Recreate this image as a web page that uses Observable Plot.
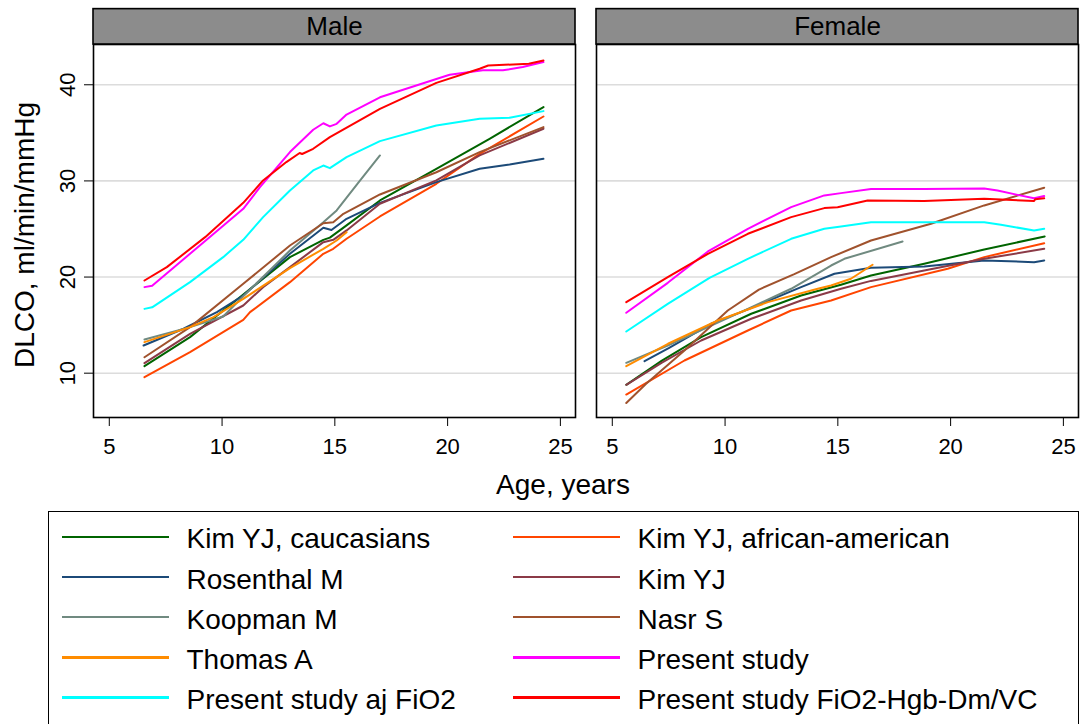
<!DOCTYPE html>
<html>
<head>
<meta charset="utf-8">
<script src="https://cdn.jsdelivr.net/npm/d3@7"></script>
<script src="https://cdn.jsdelivr.net/npm/@observablehq/plot@0.6"></script>
<style>
  html, body { margin: 0; padding: 0; background: white; }
  body { font-family: "Liberation Sans", Arial, Helvetica, sans-serif; color: black; }
  #wrap { position: relative; width: 1083px; height: 724px; overflow: hidden; }
  #xlabel { position: absolute; top: 469px; left: 0; width: 1126px; text-align: center; font-size: 28px; line-height: 32px; }
  #legend { position: absolute; top: 511px; left: 48px; width: 1031px; height: 260px; border: 1.5px solid black; box-sizing: border-box; }
  .item { position: absolute; height: 40px; display: flex; align-items: center; }
  .swatch { width: 107px; height: 2.6px; }
  .lab { font-size: 28px; margin-left: 18px; margin-top: 5px; white-space: nowrap; }
</style>
</head>
<body>
<div id="wrap">
  <div id="chart"></div>
  <div id="xlabel">Age, years</div>
  <div id="legend"></div>
</div>
<script>
// ---- Data ----
const sexes = ["Male", "Female"];
const xTicks = [5, 10, 15, 20, 25];
const yTicks = [10, 20, 30, 40];

const seriesNames = [
  "Kim YJ, caucasians", "Kim YJ, african-american", "Rosenthal M", "Kim YJ",
  "Koopman M", "Nasr S", "Thomas A", "Present study",
  "Present study aj FiO2", "Present study FiO2-Hgb-Dm/VC"
];
const seriesColors = [
  "#006400", "#ff4500", "#1c4a78", "#8b3a47",
  "#708a80", "#a0522d", "#ff8c00", "#ff00ff",
  "#00ffff", "#ff0000"
];
const legendLeft = ["Kim YJ, caucasians", "Rosenthal M", "Koopman M", "Thomas A", "Present study aj FiO2"];
const legendRight = ["Kim YJ, african-american", "Kim YJ", "Nasr S", "Present study", "Present study FiO2-Hgb-Dm/VC"];

// Male curves: [age, DLCO]
const maleKimCau = [[6.56,10.73],[8.58,13.75],[10.94,18.19],[13.01,22.07],[14.49,23.87],[14.78,24.1],[15.52,25.37],[17.0,27.97],[19.5,31.26],[21.86,34.38],[24.25,37.68]];
const maleKimAfr = [[6.56,9.58],[8.58,12.19],[10.94,15.55],[11.24,16.35],[13.01,19.47],[14.49,22.42],[14.93,22.94],[15.52,23.98],[17.0,26.3],[19.5,29.7],[21.42,32.82],[24.25,36.7]];
const maleRosenthal = [[6.52,12.88],[8.29,14.62],[9.77,16.35],[10.94,18.08],[13.01,22.42],[14.49,25.12],[14.85,24.9],[15.52,26.06],[17.0,27.72],[19.5,29.87],[21.42,31.26],[22.75,31.7],[24.25,32.3]];
const maleKim = [[6.56,11.04],[8.58,14.09],[10.94,17.04],[11.82,18.95],[13.01,21.03],[14.49,23.63],[14.93,23.87],[15.52,24.85],[17.0,27.62],[19.5,30.05],[21.42,32.65],[24.25,35.43]];
const maleKoopman = [[6.56,13.5],[8.58,14.79],[10.05,15.9],[10.94,18.0],[13.01,22.76],[14.49,25.7],[15.08,26.93],[16.0,29.7],[17.0,32.65]];
const maleNasr = [[6.56,11.66],[8.58,14.79],[10.94,19.3],[13.01,23.28],[14.49,25.6],[14.93,25.7],[15.38,26.58],[17.0,28.59],[19.5,30.9],[21.42,33.0],[24.25,35.6]];
const maleThomas = [[6.56,13.23],[8.58,14.79],[9.62,15.83],[10.94,17.73],[13.01,20.93],[14.49,22.94],[15.08,23.8],[15.52,24.67]];
const malePresent = [[6.56,18.95],[6.9,19.1],[8.58,22.42],[10.94,27.1],[11.68,29.35],[13.01,33.0],[14.04,35.32],[14.49,36.0],[14.78,35.67],[15.08,35.94],[15.52,36.9],[17.0,38.7],[19.5,40.6],[20.09,41.04],[21.56,41.5],[22.45,41.5],[23.33,41.84],[24.25,42.36]];
const malePresentAj = [[6.56,16.69],[6.9,16.85],[8.58,19.47],[10.05,22.07],[10.94,23.87],[11.82,26.23],[13.01,29.0],[14.04,31.09],[14.49,31.6],[14.78,31.33],[15.52,32.48],[17.0,34.14],[19.5,35.77],[21.42,36.47],[22.75,36.57],[24.25,37.26]];
const malePresentHgb = [[6.56,19.64],[7.55,21.03],[9.25,24.15],[10.94,27.72],[11.82,30.05],[12.85,31.96],[13.44,32.9],[13.55,32.8],[14.04,33.34],[14.78,34.56],[17.0,37.5],[19.5,40.2],[21.42,41.67],[21.8,42.0],[23.6,42.19],[24.25,42.53]];

// Female curves: [age, DLCO]
const femaleKimCau = [[5.62,8.79],[7.2,11.3],[8.94,13.75],[11.16,16.18],[13.37,18.08],[15.14,19.2],[16.47,20.16],[18.83,21.38],[21.49,22.87],[24.17,24.22]];
const femaleKimAfr = [[5.62,7.78],[8.2,11.32],[11.01,14.44],[12.93,16.52],[14.7,17.56],[16.47,18.95],[19.87,20.86],[21.49,22.07],[24.15,23.52]];
const femaleRosenthal = [[6.43,11.25],[7.5,12.6],[9.38,15.14],[10.71,16.35],[13.37,18.95],[14.85,20.34],[16.47,20.96],[18.83,21.1],[21.49,21.72],[23.7,21.55],[24.15,21.72]];
const femaleKim = [[5.62,8.79],[7.2,11.1],[8.94,13.4],[11.16,15.66],[13.37,17.56],[15.14,18.78],[16.47,19.6],[18.83,20.68],[21.49,21.9],[24.15,22.94]];
const femaleKoopman = [[5.62,11.08],[7.46,12.88],[9.24,14.79],[11.01,16.69],[12.93,18.78],[14.7,21.2],[15.29,21.9],[17.87,23.7]];
const femaleNasr = [[5.62,6.9],[6.5,8.9],[8.2,12.36],[10.12,16.52],[11.5,18.7],[13.07,20.3],[14.7,22.07],[16.47,23.8],[19.13,25.54],[21.49,27.45],[24.15,29.29]];
const femaleThomas = [[5.62,10.73],[7.47,13.06],[9.68,15.48],[11.9,17.39],[14.11,18.78],[14.7,19.12],[15.58,19.82],[16.54,21.28]];
const femalePresent = [[5.62,16.28],[7.46,19.4],[9.24,22.66],[11.01,25.02],[12.93,27.27],[14.4,28.49],[15.14,28.73],[16.47,29.15],[18.83,29.15],[21.49,29.2],[22.08,29.0],[22.97,28.55],[23.7,28.2],[24.15,28.42]];
const femalePresentAj = [[5.62,14.34],[7.46,17.21],[9.31,19.92],[11.01,21.9],[12.93,23.98],[14.4,25.02],[15.14,25.26],[16.47,25.7],[21.49,25.7],[22.23,25.43],[23.7,24.85],[24.15,25.02]];
const femalePresentHgb = [[5.62,17.39],[7.46,19.99],[9.24,22.42],[11.01,24.5],[12.93,26.23],[14.4,27.17],[14.99,27.27],[16.32,27.97],[18.83,27.9],[21.49,28.14],[23.7,27.9],[23.75,28.1],[24.15,28.2]];

const maleCurves = [maleKimCau, maleKimAfr, maleRosenthal, maleKim, maleKoopman, maleNasr, maleThomas, malePresent, malePresentAj, malePresentHgb];
const femaleCurves = [femaleKimCau, femaleKimAfr, femaleRosenthal, femaleKim, femaleKoopman, femaleNasr, femaleThomas, femalePresent, femalePresentAj, femalePresentHgb];

// ---- Build table ----
const rows = [];
seriesNames.forEach((name, i) => {
  maleCurves[i].forEach(([age, value]) => rows.push({series: name, sex: "Male", age, value}));
  femaleCurves[i].forEach(([age, value]) => rows.push({series: name, sex: "Female", age, value}));
});

const yDomain = [5.39, 44.19];
const headerTop = 47.87;

const chart = Plot.plot({
  width: 1083,
  height: 505,
  marginLeft: 93,
  marginRight: 5,
  marginTop: 44,
  marginBottom: 88,
  style: {fontFamily: '"Liberation Sans", Arial, Helvetica, sans-serif', fontSize: "22px", color: "black", background: "white", overflow: "visible"},
  fx: {domain: sexes, paddingInner: 0.0418, paddingOuter: 0, axis: null, label: null},
  x: {domain: [4.3, 25.67], label: null},
  y: {domain: yDomain, label: null},
  color: {domain: seriesNames, range: seriesColors},
  marks: [
    Plot.gridY(yTicks, {stroke: "#dcdcdc", strokeOpacity: 1, strokeWidth: 1.6}),
    Plot.line(rows, {fx: "sex", x: "age", y: "value", z: "series", stroke: "series", strokeWidth: 2}),
    Plot.frame({stroke: "black", strokeWidth: 1.6}),
    Plot.rect([0], {y1: yDomain[1], y2: headerTop, fill: "#8c8c8c", stroke: "black", strokeWidth: 1.6}),
    Plot.text(sexes, {fx: d => d, text: d => d, y: (yDomain[1] + headerTop) / 2, fontSize: 26, fill: "black"}),
    Plot.axisX(xTicks, {tickSize: 9, tickPadding: 12, fontSize: 22, label: null, stroke: "black"}),
    Plot.axisY(yTicks, {tickSize: 9, tickPadding: 10, tickRotate: -90, fontSize: 22, label: null, stroke: "black"}),
    Plot.text([0], {fx: () => "Male", text: () => "DLCO, ml/min/mmHg", frameAnchor: "left", textAnchor: "middle", lineAnchor: "middle", rotate: -90, dx: -68, dy: 4, fontSize: 28, fill: "black"})
  ]
});
document.getElementById("chart").appendChild(chart);

// ---- Legend ----
const legend = document.getElementById("legend");
function addItem(name, row, col) {
  const it = document.createElement("div");
  it.className = "item";
  it.style.top = (26.3 + row * 40.2 - 20 - 1.5) + "px";
  it.style.left = (col === 0 ? 12.5 : 463.5) + "px";
  const sw = document.createElement("div");
  sw.className = "swatch";
  sw.style.background = seriesColors[seriesNames.indexOf(name)];
  const lb = document.createElement("div");
  lb.className = "lab";
  lb.textContent = name;
  it.appendChild(sw);
  it.appendChild(lb);
  legend.appendChild(it);
}
legendLeft.forEach((n, i) => addItem(n, i, 0));
legendRight.forEach((n, i) => addItem(n, i, 1));
</script>
</body>
</html>
